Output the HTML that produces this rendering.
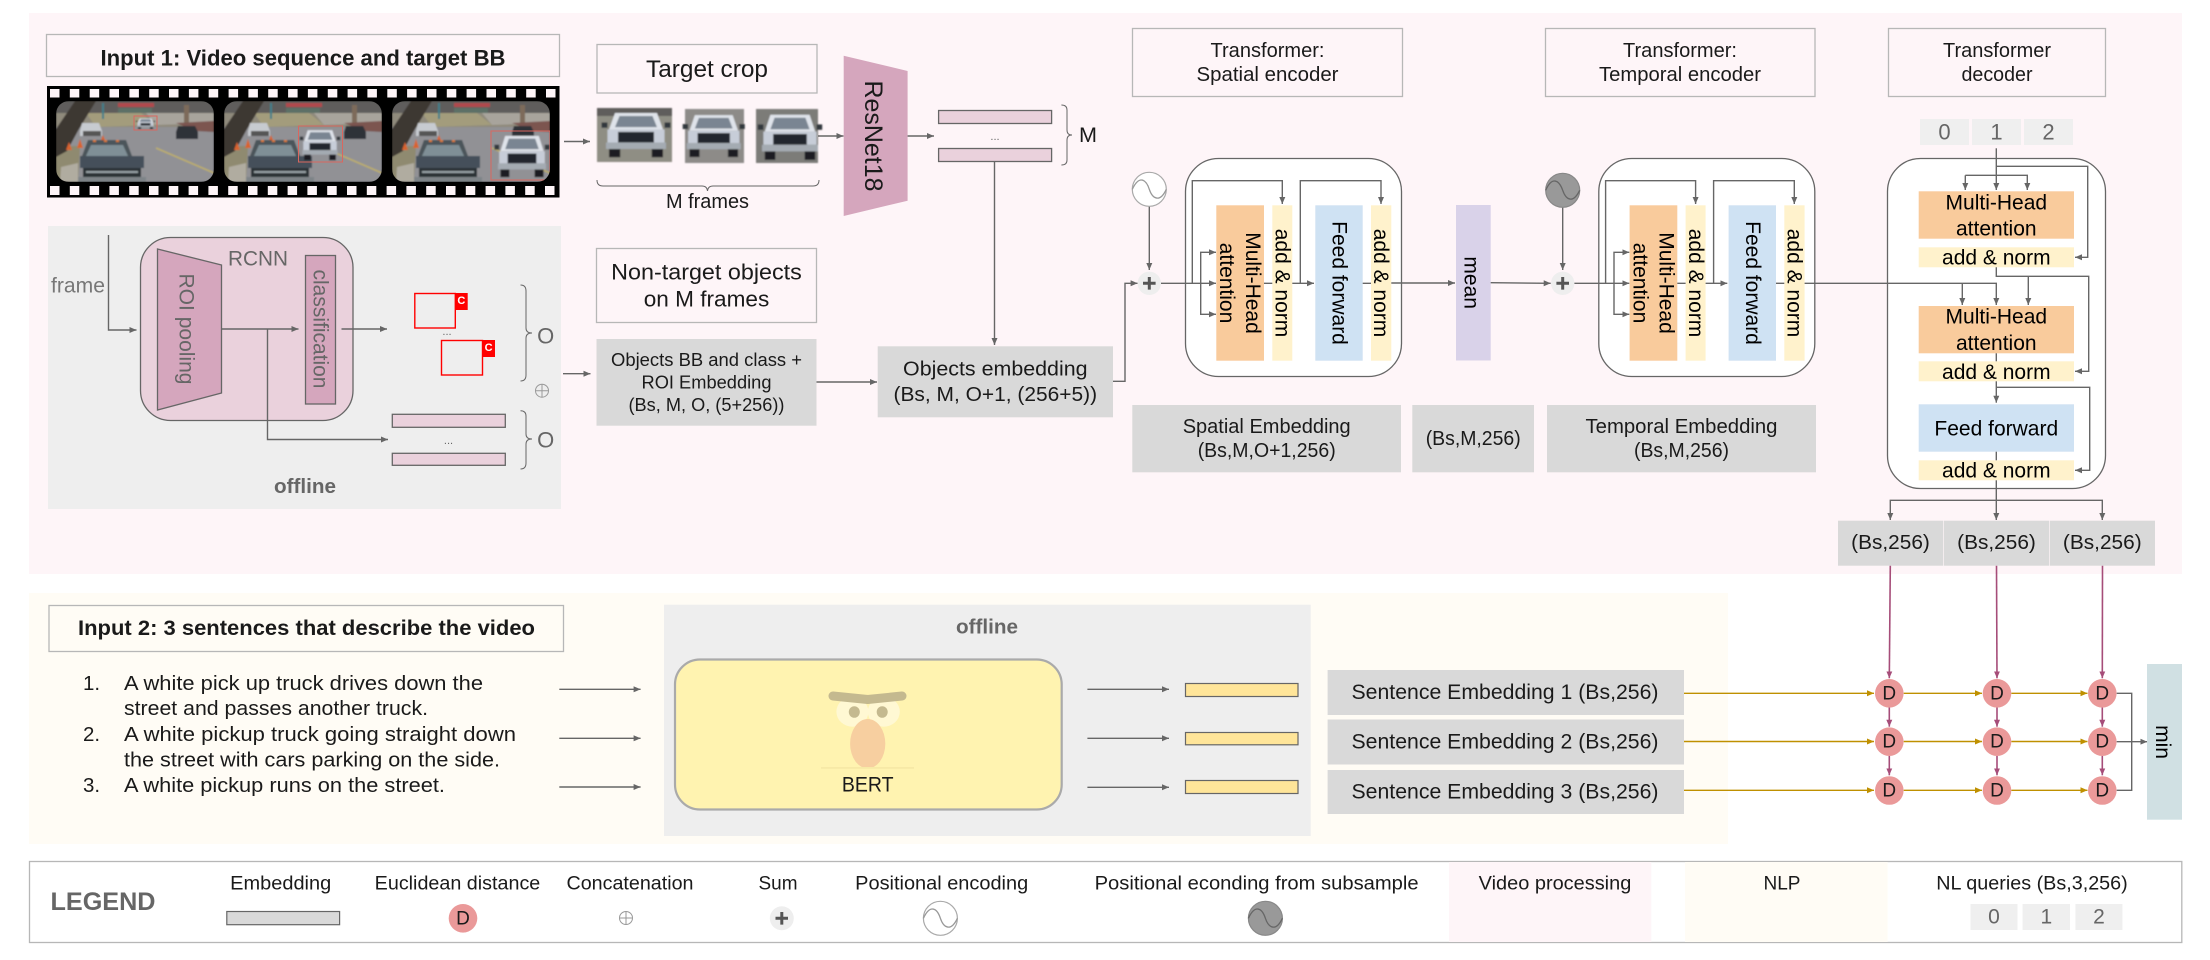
<!DOCTYPE html>
<html><head><meta charset="utf-8"><style>
html,body{margin:0;padding:0;background:#fff}
svg{display:block}
text{font-family:"Liberation Sans",sans-serif;text-anchor:middle;dominant-baseline:central;fill:#1a1a1a}
.l{fill:none;stroke:#666;stroke-width:1.4}
.m{fill:none;stroke:#a64d79;stroke-width:1.6}
.g{fill:none;stroke:#bf9000;stroke-width:1.4}
.b{fill:#fff;fill-opacity:0;stroke:#b7b7b7;stroke-width:1.3}
.e{fill:#d9d9d9}
.ar{font-size:21px;fill:#000}
</style></head><body>
<svg xmlns="http://www.w3.org/2000/svg" width="2210" height="960" viewBox="0 0 2210 960">
<defs>
<marker id="a" markerUnits="userSpaceOnUse" markerWidth="8" markerHeight="8" refX="7" refY="4" orient="auto"><path d="M0,1 L7,4 L0,7Z" fill="#666"/></marker>
<marker id="am" markerUnits="userSpaceOnUse" markerWidth="8" markerHeight="8" refX="7" refY="4" orient="auto"><path d="M0,1 L7,4 L0,7Z" fill="#a64d79"/></marker>
<marker id="ag" markerUnits="userSpaceOnUse" markerWidth="8" markerHeight="8" refX="7" refY="4" orient="auto"><path d="M0,1 L7,4 L0,7Z" fill="#bf9000"/></marker>
<filter id="bl" x="-5%" y="-5%" width="110%" height="110%"><feGaussianBlur stdDeviation="0.8"/></filter>
<clipPath id="fc"><rect x="0" y="0" width="158" height="81" rx="13"/></clipPath>
<g id="sc">
<rect width="158" height="81" fill="#919195"/>
<rect width="158" height="26" fill="#8f8a7c"/>
<rect width="158" height="12" fill="#5f5d5c"/>
<path d="M30,12 L85,12 L100,24 L40,26Z" fill="#a39c7c"/>
<path d="M90,12 L158,12 L158,22 L100,24Z" fill="#a8a49c"/>
<rect x="62" y="2" width="36" height="4" fill="#b04a4e"/>
<rect x="62" y="7" width="34" height="5" fill="#5d6f66"/>
<rect x="46" y="2" width="2" height="16" fill="#3f7f8a"/>
<rect x="128" y="4" width="5" height="26" fill="#7d6a5a"/>
<path d="M120,22 L158,20 L158,31 L140,30Z" fill="#7b5450"/>
<path d="M100,47 L158,72" stroke="#bdae6b" stroke-width="1.5"/>
<path d="M0,45 L24,45 L22,81 L0,81Z" fill="#8f8a70"/>
<path d="M5,66 L22,62 L22,81 L4,81Z" fill="#b0aca0"/>
<path d="M19,0 L40,0 L23,28 L11,50 L0,56 L0,28Z" fill="#3e3833"/>
<path d="M26,22h17l3,8v5h-22v-5z" fill="#c7cbd0"/>
<rect x="27" y="30" width="18" height="5" fill="#555"/>
<path d="M122,25h17l3,6v7h-22v-7z" fill="#2e3338"/>
<path d="M13,41l3,8h-6zM24,38l3,9h-6zM47,34l2,5h-4z" fill="#d8632f"/>
<path d="M32,39 L70,39 L76,55 L26,55Z" fill="#4b555a"/>
<path d="M35,44 L67,44 L72,55 L30,55Z" fill="#7f8f96"/>
<rect x="24" y="55" width="64" height="12" fill="#44505a"/>
<rect x="27" y="67" width="58" height="14" fill="#2c3236"/>
<rect x="30" y="70" width="52" height="2" fill="#98a2a6"/>
<rect x="22" y="76" width="68" height="5" fill="#7e8488"/>
<path d="M37,39h3v2h-3zM48,39h3v2h-3zM60,39h3v2h-3z" fill="#d8772f"/>
</g>
<g id="tk">
<path d="M22,18 L78,18 L86,46 L14,46Z" fill="#dfe3ea"/>
<path d="M28,23 L72,23 L78,42 L22,42Z" fill="#7a8592"/>
<rect x="12" y="46" width="76" height="22" fill="#c7cdd8"/>
<rect x="26" y="50" width="48" height="18" fill="#20272d"/>
<rect x="10" y="68" width="80" height="11" fill="#a4abb2"/>
<rect x="14" y="79" width="15" height="14" fill="#1c1f22"/>
<rect x="71" y="79" width="15" height="14" fill="#1c1f22"/>
<rect x="4" y="34" width="8" height="9" fill="#33383d"/>
<rect x="88" y="34" width="8" height="9" fill="#33383d"/>
</g>
</defs>

<rect x="29" y="13" width="2153" height="561" fill="#fef5f8"/>
<rect x="29" y="593" width="1699" height="251" fill="#fffcf5"/>

<!-- Input 1 -->
<rect class="b" x="46.5" y="34.5" width="513" height="42"/>
<text x="303" y="58" font-size="22.5" font-weight="bold" textLength="405" lengthAdjust="spacingAndGlyphs">Input 1: Video sequence and target BB</text>

<!-- Film strip -->
<rect x="47" y="86" width="512.5" height="111.5" fill="#000"/>
<g fill="#fef5f8">
<path d="M50,89h9.5v8.5h-9.5zM69.8,89h9.5v8.5h-9.5zM89.7,89h9.5v8.5h-9.5zM109.5,89h9.5v8.5h-9.5zM129.4,89h9.5v8.5h-9.5zM149.2,89h9.5v8.5h-9.5zM169,89h9.5v8.5h-9.5zM188.9,89h9.5v8.5h-9.5zM208.7,89h9.5v8.5h-9.5zM228.6,89h9.5v8.5h-9.5zM248.4,89h9.5v8.5h-9.5zM268.2,89h9.5v8.5h-9.5zM288.1,89h9.5v8.5h-9.5zM307.9,89h9.5v8.5h-9.5zM327.8,89h9.5v8.5h-9.5zM347.6,89h9.5v8.5h-9.5zM367.4,89h9.5v8.5h-9.5zM387.3,89h9.5v8.5h-9.5zM407.1,89h9.5v8.5h-9.5zM427,89h9.5v8.5h-9.5zM446.8,89h9.5v8.5h-9.5zM466.6,89h9.5v8.5h-9.5zM486.5,89h9.5v8.5h-9.5zM506.3,89h9.5v8.5h-9.5zM526.2,89h9.5v8.5h-9.5zM546,89h9.5v8.5h-9.5z"/>
<path d="M50,186h9.5v9h-9.5zM69.8,186h9.5v9h-9.5zM89.6,186h9.5v9h-9.5zM109.4,186h9.5v9h-9.5zM129.2,186h9.5v9h-9.5zM149,186h9.5v9h-9.5zM168.8,186h9.5v9h-9.5zM188.6,186h9.5v9h-9.5zM208.4,186h9.5v9h-9.5zM228.2,186h9.5v9h-9.5zM248,186h9.5v9h-9.5zM267.8,186h9.5v9h-9.5zM287.6,186h9.5v9h-9.5zM307.4,186h9.5v9h-9.5zM327.2,186h9.5v9h-9.5zM347,186h9.5v9h-9.5zM366.8,186h9.5v9h-9.5zM386.6,186h9.5v9h-9.5zM406.4,186h9.5v9h-9.5zM426.2,186h9.5v9h-9.5zM446,186h9.5v9h-9.5zM465.8,186h9.5v9h-9.5zM485.6,186h9.5v9h-9.5zM505.4,186h9.5v9h-9.5zM525.2,186h9.5v9h-9.5zM545,186h9.5v9h-9.5z"/>
</g>
<g transform="translate(56,101)" clip-path="url(#fc)"><g filter="url(#bl)"><use href="#sc"/>
<use href="#tk" transform="translate(79,15) scale(0.21,0.14)"/></g><rect x="78" y="15" width="23" height="14" fill="none" stroke="#d9675f"/></g>
<g transform="translate(224,101)" clip-path="url(#fc)"><g filter="url(#bl)"><use href="#sc"/>
<use href="#tk" transform="translate(74,22) scale(0.44,0.4)"/></g><rect x="74.5" y="25" width="44" height="36" fill="none" stroke="#d9675f"/></g>
<g transform="translate(392,101)" clip-path="url(#fc)"><g filter="url(#bl)"><use href="#sc"/>
<use href="#tk" transform="translate(100,25) scale(0.6,0.55)"/></g><rect x="99" y="30" width="59" height="49" fill="none" stroke="#d9675f"/></g>

<path class="l" d="M564,141.5H590" marker-end="url(#a)"/>

<!-- Offline RCNN -->
<rect x="48" y="226" width="513" height="283" fill="#eee"/>
<rect x="140.5" y="237.5" width="212.5" height="183" rx="30" fill="#ead1dc" stroke="#666" stroke-width="1.3"/>
<path d="M157.5,249 L221.5,265 V393 L157.5,410Z" fill="#d5a6bd" stroke="#666" stroke-width="1.3"/>
<text transform="translate(186,329) rotate(90)" font-size="21" textLength="111" lengthAdjust="spacingAndGlyphs" style="fill:#666">ROI pooling</text>
<text x="258" y="259" font-size="21" style="fill:#666" textLength="60" lengthAdjust="spacingAndGlyphs">RCNN</text>
<rect x="305.5" y="255.5" width="30" height="148.5" fill="#d5a6bd" stroke="#666" stroke-width="1.3"/>
<text transform="translate(320,329) rotate(90)" font-size="21" style="fill:#666" textLength="119" lengthAdjust="spacingAndGlyphs">classification</text>
<text x="78" y="286" font-size="21" style="fill:#777" textLength="54" lengthAdjust="spacingAndGlyphs">frame</text>
<path class="l" d="M108.5,235V330H136.5" marker-end="url(#a)"/>
<path class="l" d="M221.5,329H298.5" marker-end="url(#a)"/>
<path class="l" d="M267.5,329V439.5H388" marker-end="url(#a)"/>
<path class="l" d="M341.5,329H387" marker-end="url(#a)"/>
<rect x="414.8" y="293.5" width="40.5" height="34.5" fill="none" stroke="#f00" stroke-width="1.4"/>
<rect x="455" y="293" width="12.7" height="17" fill="#f00"/>
<text x="461.3" y="301" font-size="11" font-weight="bold" style="fill:#fff">C</text>
<text x="447" y="332" font-size="11" style="fill:#666">...</text>
<rect x="441.5" y="340.5" width="41" height="34.5" fill="none" stroke="#f00" stroke-width="1.4"/>
<rect x="482.3" y="340" width="12.7" height="17" fill="#f00"/>
<text x="488.6" y="348" font-size="11" font-weight="bold" style="fill:#fff">C</text>
<path d="M520.5,285 Q526,285 526,291 V328 Q526,333 532,333 Q526,333 526,338 V375 Q526,381 520.5,381" fill="none" stroke="#666" stroke-width="1"/>
<text x="545.7" y="336" font-size="22" style="fill:#666">O</text>
<circle cx="542" cy="390.7" r="6.5" fill="none" stroke="#999" stroke-width="1"/><path d="M535.5,390.7H548.5M542,384.2V397.2" stroke="#999" stroke-width="1"/>
<rect x="392.3" y="414.3" width="113" height="13" fill="#ead1dc" stroke="#666" stroke-width="1.3"/>
<text x="448.5" y="441" font-size="11" style="fill:#666">...</text>
<rect x="392.3" y="453.3" width="113" height="12" fill="#ead1dc" stroke="#666" stroke-width="1.3"/>
<path d="M520.5,410.7 Q526,410.7 526,416 V434 Q526,439 532,439 Q526,439 526,444 V463 Q526,469 520.5,469" fill="none" stroke="#666" stroke-width="1"/>
<text x="545.7" y="440" font-size="22" style="fill:#666">O</text>
<text x="305" y="487" font-size="20" font-weight="bold" style="fill:#666" textLength="62" lengthAdjust="spacingAndGlyphs">offline</text>
<path class="l" d="M563,373.7H590.5" marker-end="url(#a)"/>

<!-- Target crop -->
<rect class="b" x="597" y="44.5" width="220" height="48.5"/>
<text x="707" y="69.5" font-size="24" textLength="122" lengthAdjust="spacingAndGlyphs">Target crop</text>
<g filter="url(#bl)">
<rect x="597" y="108" width="75" height="54" fill="#8f8e84"/>
<rect x="597" y="108" width="75" height="8" fill="#5f5d5c"/>
<use href="#tk" transform="translate(598.5,102.4) scale(0.75,0.59)"/>
<rect x="685" y="109" width="59" height="54" fill="#8d8b88"/>
<use href="#tk" transform="translate(680,105) scale(0.675,0.56)"/>
<rect x="756" y="109" width="62" height="54" fill="#7c7b78"/>
<use href="#tk" transform="translate(755,104) scale(0.7,0.6)"/>
</g>
<path d="M597,180 Q597,186 603,186 H702 Q707,186 707.5,191 Q708,186 713,186 H813 Q819,186 819,180" fill="none" stroke="#666" stroke-width="1"/>
<text x="707.5" y="202" font-size="20" textLength="83" lengthAdjust="spacingAndGlyphs">M frames</text>
<path class="l" d="M818,136H843.5" marker-end="url(#a)"/>
<path d="M843.7,55.7 L907.6,71 V200.7 L843.7,216Z" fill="#d5a6bd"/>
<text transform="translate(872.8,136) rotate(90)" font-size="25" textLength="111" lengthAdjust="spacingAndGlyphs">ResNet18</text>
<path class="l" d="M907.6,136H934" marker-end="url(#a)"/>
<rect x="938.6" y="110.5" width="113" height="13" fill="#ead1dc" stroke="#666" stroke-width="1.3"/>
<text x="995" y="137" font-size="11" style="fill:#666">...</text>
<rect x="938.6" y="148.5" width="113" height="13" fill="#ead1dc" stroke="#666" stroke-width="1.3"/>
<path d="M1061.4,105 Q1067,105 1067,110 V130 Q1067,135 1072,135 Q1067,135 1067,140 V160 Q1067,165 1061.4,165" fill="none" stroke="#666" stroke-width="1"/>
<text x="1088" y="135.5" font-size="21" textLength="18" lengthAdjust="spacingAndGlyphs">M</text>
<path class="l" d="M994.5,162V345" marker-end="url(#a)"/>

<rect class="b" x="596.5" y="248.5" width="220" height="74"/>
<text x="706.5" y="272" font-size="22.5" textLength="190.6" lengthAdjust="spacingAndGlyphs">Non-target objects</text>
<text x="706.5" y="299" font-size="22.5" textLength="125.5" lengthAdjust="spacingAndGlyphs">on M frames</text>
<rect class="e" x="596.5" y="339" width="220" height="86.7"/>
<text x="706.5" y="359.3" font-size="18.5" textLength="191" lengthAdjust="spacingAndGlyphs">Objects BB and class +</text>
<text x="706.5" y="382" font-size="18.5" textLength="130" lengthAdjust="spacingAndGlyphs">ROI Embedding</text>
<text x="706.5" y="404.7" font-size="18.5" textLength="156" lengthAdjust="spacingAndGlyphs">(Bs, M, O, (5+256))</text>
<path class="l" d="M816.5,382H877" marker-end="url(#a)"/>
<rect class="e" x="877.7" y="346.3" width="235.3" height="71"/>
<text x="995.3" y="369" font-size="20.5" textLength="184.5" lengthAdjust="spacingAndGlyphs">Objects embedding</text>
<text x="995.3" y="394.7" font-size="20.5" textLength="203.6" lengthAdjust="spacingAndGlyphs">(Bs, M, O+1, (256+5))</text>
<path class="l" d="M1113,381.3H1125V283.3H1137.6" marker-end="url(#a)"/>

<!-- Titles -->
<rect class="b" x="1132.5" y="28.5" width="270" height="68"/>
<text x="1267.5" y="50.7" font-size="20.5" textLength="114" lengthAdjust="spacingAndGlyphs">Transformer:</text>
<text x="1267.5" y="74.7" font-size="20.5" textLength="142" lengthAdjust="spacingAndGlyphs">Spatial encoder</text>
<rect class="b" x="1545.5" y="28.5" width="269.5" height="68"/>
<text x="1680" y="50.7" font-size="20.5" textLength="114" lengthAdjust="spacingAndGlyphs">Transformer:</text>
<text x="1680" y="74.7" font-size="20.5" textLength="162" lengthAdjust="spacingAndGlyphs">Temporal encoder</text>
<rect class="b" x="1888.5" y="28.5" width="217" height="68"/>
<text x="1997" y="50.7" font-size="20.5" textLength="108" lengthAdjust="spacingAndGlyphs">Transformer</text>
<text x="1997" y="74.7" font-size="20.5" textLength="71" lengthAdjust="spacingAndGlyphs">decoder</text>

<!-- Sum / pos enc 1 -->
<path class="l" d="M1149.3,206V270" marker-end="url(#a)"/>
<circle cx="1149.3" cy="189.3" r="17" fill="#fff" stroke="#aaa" stroke-width="1.2"/>
<path d="M1132.3,189.3 C1139,175 1146,179 1149.3,189.3 C1152.5,199 1160,203 1166.3,189.3" fill="none" stroke="#999" stroke-width="1.3"/>
<circle cx="1149.3" cy="283.3" r="11.7" fill="#eee"/><path d="M1143,283.3H1155.6M1149.3,277V289.6" stroke="#555" stroke-width="3"/>

<!-- Encoder 1 -->
<rect x="1185.5" y="158.5" width="216" height="218" rx="33" fill="#fff" stroke="#666" stroke-width="1.3"/>
<rect x="1216.3" y="205.3" width="47.7" height="155.4" fill="#f9cb9c"/>
<rect x="1272.3" y="205.3" width="20" height="155.4" fill="#fff2cc"/>
<rect x="1315.3" y="205.3" width="47.4" height="155.4" fill="#cfe2f3"/>
<rect x="1371" y="205.3" width="20.3" height="155.4" fill="#fff2cc"/>
<text class="ar" transform="translate(1252.7,283) rotate(90)">Multi-Head</text>
<text class="ar" transform="translate(1226.7,283) rotate(90)">attention</text>
<text class="ar" transform="translate(1282,283) rotate(90)">add &amp; norm</text>
<text class="ar" transform="translate(1339,283) rotate(90)">Feed forward</text>
<text class="ar" transform="translate(1380.7,283) rotate(90)">add &amp; norm</text>
<path class="l" d="M1161,283.3H1216" marker-end="url(#a)"/>
<path class="l" d="M1200.7,283.3V252.3H1216" marker-end="url(#a)"/>
<path class="l" d="M1200.7,283.3V314.3H1216" marker-end="url(#a)"/>
<path class="l" d="M1192.3,283.3V180.7H1282.3V204" marker-end="url(#a)"/>
<path class="l" d="M1264,283.3H1272.3M1292.3,283.3H1314" marker-end="url(#a)"/>
<path class="l" d="M1300.3,283.3V180.7H1381V204" marker-end="url(#a)"/>
<path class="l" d="M1362.7,283.3H1371M1391.3,283H1455" marker-end="url(#a)"/>

<!-- mean -->
<rect x="1456" y="205" width="34.7" height="155.5" fill="#d9d2e9"/>
<text class="ar" transform="translate(1471,282.7) rotate(90)">mean</text>
<path class="l" d="M1490.7,282.7L1550.7,283.3" marker-end="url(#a)"/>

<!-- Sum / pos enc 2 -->
<path class="l" d="M1562.7,207V270" marker-end="url(#a)"/>
<circle cx="1562.7" cy="190.3" r="17" fill="#999" stroke="#888" stroke-width="1.2"/>
<path d="M1545.7,190.3 C1552,176 1559,180 1562.7,190.3 C1566,200 1573,204 1579.7,190.3" fill="none" stroke="#666" stroke-width="1.3"/>
<circle cx="1562.7" cy="283.3" r="11.7" fill="#eee"/><path d="M1556.4,283.3H1569M1562.7,277V289.6" stroke="#555" stroke-width="3"/>

<!-- Encoder 2 -->
<rect x="1598.8" y="158.5" width="216" height="218" rx="33" fill="#fff" stroke="#666" stroke-width="1.3"/>
<rect x="1629.6" y="205.3" width="47.7" height="155.4" fill="#f9cb9c"/>
<rect x="1685.6" y="205.3" width="20" height="155.4" fill="#fff2cc"/>
<rect x="1728.6" y="205.3" width="47.4" height="155.4" fill="#cfe2f3"/>
<rect x="1784.3" y="205.3" width="20.3" height="155.4" fill="#fff2cc"/>
<text class="ar" transform="translate(1666,283) rotate(90)">Multi-Head</text>
<text class="ar" transform="translate(1640,283) rotate(90)">attention</text>
<text class="ar" transform="translate(1695.3,283) rotate(90)">add &amp; norm</text>
<text class="ar" transform="translate(1752.3,283) rotate(90)">Feed forward</text>
<text class="ar" transform="translate(1794,283) rotate(90)">add &amp; norm</text>
<path class="l" d="M1574.4,283.3H1629.3" marker-end="url(#a)"/>
<path class="l" d="M1614,283.3V252.3H1629.3" marker-end="url(#a)"/>
<path class="l" d="M1614,283.3V314.3H1629.3" marker-end="url(#a)"/>
<path class="l" d="M1605.6,283.3V180.7H1695.6V204" marker-end="url(#a)"/>
<path class="l" d="M1677.3,283.3H1685.6M1705.6,283.3H1727.3" marker-end="url(#a)"/>
<path class="l" d="M1713.6,283.3V180.7H1794.3V204" marker-end="url(#a)"/>
<path class="l" d="M1776,283.3H1784.3"/>

<!-- Embedding labels -->
<rect class="e" x="1132.3" y="405" width="268.7" height="67.3"/>
<text x="1266.7" y="426.3" font-size="20.5" textLength="168" lengthAdjust="spacingAndGlyphs">Spatial Embedding</text>
<text x="1266.7" y="450.3" font-size="20.5" textLength="138" lengthAdjust="spacingAndGlyphs">(Bs,M,O+1,256)</text>
<rect class="e" x="1412.3" y="405" width="121.7" height="67.3"/>
<text x="1473.2" y="438.7" font-size="20.5" textLength="95" lengthAdjust="spacingAndGlyphs">(Bs,M,256)</text>
<rect class="e" x="1547" y="405" width="269" height="67.3"/>
<text x="1681.5" y="426.3" font-size="20.5" textLength="192" lengthAdjust="spacingAndGlyphs">Temporal Embedding</text>
<text x="1681.5" y="450.3" font-size="20.5" textLength="95" lengthAdjust="spacingAndGlyphs">(Bs,M,256)</text>

<!-- Decoder -->
<rect x="1920" y="119" width="49" height="26" fill="#efefef"/>
<rect x="1972" y="119" width="49" height="26" fill="#efefef"/>
<rect x="2024" y="119" width="49" height="26" fill="#efefef"/>
<text x="1944.5" y="132" font-size="22" style="fill:#666">0</text>
<text x="1996.5" y="132" font-size="22" style="fill:#666">1</text>
<text x="2048.5" y="132" font-size="22" style="fill:#666">2</text>
<rect x="1887.5" y="158.5" width="218" height="330" rx="33" fill="#fff" stroke="#666" stroke-width="1.3"/>
<rect x="1918.7" y="191.3" width="155.3" height="47.4" fill="#f9cb9c"/>
<text class="ar" x="1996.3" y="202.8">Multi-Head</text>
<text class="ar" x="1996.3" y="229.2">attention</text>
<rect x="1918.7" y="247.3" width="155.3" height="20" fill="#fff2cc"/>
<text class="ar" x="1996.3" y="258.2">add &amp; norm</text>
<rect x="1918.7" y="306" width="155.3" height="47.3" fill="#f9cb9c"/>
<text class="ar" x="1996.3" y="317.2">Multi-Head</text>
<text class="ar" x="1996.3" y="343.5">attention</text>
<rect x="1918.7" y="361.3" width="155.3" height="20" fill="#fff2cc"/>
<text class="ar" x="1996.3" y="372.5">add &amp; norm</text>
<rect x="1918.7" y="404.3" width="155.3" height="47.4" fill="#cfe2f3"/>
<text class="ar" x="1996.3" y="428.8">Feed forward</text>
<rect x="1918.7" y="460.3" width="155.3" height="20" fill="#fff2cc"/>
<text class="ar" x="1996.3" y="471.2">add &amp; norm</text>

<path class="l" d="M1996.3,148.3V190" marker-end="url(#a)"/>
<path class="l" d="M1965.3,175.3H2027.3V190" marker-end="url(#a)"/>
<path class="l" d="M1965.3,175.3V190" marker-end="url(#a)"/>
<path class="l" d="M1996.3,166.3H2087.7V257.3H2075" marker-end="url(#a)"/>
<path class="l" d="M1804.6,283.3H1996.3V305" marker-end="url(#a)"/>
<path class="l" d="M1962.3,283.3V305" marker-end="url(#a)"/>
<path class="l" d="M1996.3,267.3V276.3H2088.7V371.3H2075" marker-end="url(#a)"/>
<path class="l" d="M2028.3,276.3V305" marker-end="url(#a)"/>
<path class="l" d="M1996.3,353.3V361.3"/>
<path class="l" d="M1996.3,381.3V402.7" marker-end="url(#a)"/>
<path class="l" d="M1996.3,387.3H2089.7V470.3H2075" marker-end="url(#a)"/>
<path class="l" d="M1996.3,451.7V460.3"/>
<path class="l" d="M1996.3,480.3V520" marker-end="url(#a)"/>
<path class="l" d="M1996.3,500.3H2102.3V520" marker-end="url(#a)"/>
<path class="l" d="M1996.3,500.3H1890.3V520" marker-end="url(#a)"/>

<rect class="e" x="1838" y="520.7" width="105.3" height="45"/>
<rect class="e" x="1944" y="520.7" width="105" height="45"/>
<rect class="e" x="2049.7" y="520.7" width="105.3" height="45"/>
<text x="1890.5" y="542.7" font-size="20.5" textLength="78.7" lengthAdjust="spacingAndGlyphs">(Bs,256)</text>
<text x="1996.5" y="542.7" font-size="20.5" textLength="78.7" lengthAdjust="spacingAndGlyphs">(Bs,256)</text>
<text x="2102.3" y="542.7" font-size="20.5" textLength="78.7" lengthAdjust="spacingAndGlyphs">(Bs,256)</text>

<!-- Input 2 -->
<rect class="b" x="49" y="605.5" width="514.5" height="46"/>
<text x="306.5" y="628.3" font-size="21" font-weight="bold" textLength="457" lengthAdjust="spacingAndGlyphs">Input 2: 3 sentences that describe the video</text>
<text x="83" y="683.3" font-size="20.5" style="text-anchor:start">1.</text>
<text x="124" y="683.3" font-size="20.5" style="text-anchor:start" textLength="359" lengthAdjust="spacingAndGlyphs">A white pick up truck drives down the</text>
<text x="124" y="708.7" font-size="20.5" style="text-anchor:start" textLength="304" lengthAdjust="spacingAndGlyphs">street and passes another truck.</text>
<text x="83" y="734.7" font-size="20.5" style="text-anchor:start">2.</text>
<text x="124" y="734.7" font-size="20.5" style="text-anchor:start" textLength="392" lengthAdjust="spacingAndGlyphs">A white pickup truck going straight down</text>
<text x="124" y="760" font-size="20.5" style="text-anchor:start" textLength="376" lengthAdjust="spacingAndGlyphs">the street with cars parking on the side.</text>
<text x="83" y="785.3" font-size="20.5" style="text-anchor:start">3.</text>
<text x="124" y="785.3" font-size="20.5" style="text-anchor:start" textLength="321" lengthAdjust="spacingAndGlyphs">A white pickup runs on the street.</text>
<path class="l" d="M559.3,689.3H640.6" marker-end="url(#a)"/>
<path class="l" d="M559.3,738.3H640.6" marker-end="url(#a)"/>
<path class="l" d="M559.3,787H640.6" marker-end="url(#a)"/>

<rect x="664" y="604.7" width="646.7" height="231.3" fill="#eee"/>
<text x="987" y="627.7" font-size="20" font-weight="bold" style="fill:#666" textLength="62" lengthAdjust="spacingAndGlyphs">offline</text>
<rect x="675" y="659.5" width="386.7" height="150" rx="25" fill="#fff3b0" stroke="#aaa" stroke-width="2.2"/>
<ellipse cx="852.4" cy="711.7" rx="16" ry="15" fill="#fff8d3"/>
<ellipse cx="883.8" cy="711.7" rx="16" ry="15" fill="#fff8d3"/>
<ellipse cx="854.3" cy="712" rx="5.5" ry="5.8" fill="#c4b98f"/>
<ellipse cx="882.2" cy="712" rx="5.5" ry="5.8" fill="#c4b98f"/>
<path d="M833,696 L867.7,699.5 L902,696" fill="none" stroke="#c4b98f" stroke-width="9" stroke-linecap="round" stroke-linejoin="round"/>
<ellipse cx="867.7" cy="743.7" rx="17.6" ry="24.7" fill="#f7cfa0"/>
<rect x="821" y="767" width="93" height="1.8" fill="#f7e9a6"/>
<text x="867.7" y="785" font-size="21" textLength="51.7" lengthAdjust="spacingAndGlyphs">BERT</text>
<path class="l" d="M1087.4,689.3H1169" marker-end="url(#a)"/>
<path class="l" d="M1087.4,738.3H1169" marker-end="url(#a)"/>
<path class="l" d="M1087.4,787.3H1169" marker-end="url(#a)"/>
<rect x="1185.5" y="683.5" width="112.5" height="13" fill="#ffe599" stroke="#666" stroke-width="1.2"/>
<rect x="1185.5" y="732.5" width="112.5" height="12.3" fill="#ffe599" stroke="#666" stroke-width="1.2"/>
<rect x="1185.5" y="780.5" width="112.5" height="13" fill="#ffe599" stroke="#666" stroke-width="1.2"/>

<rect class="e" x="1327.6" y="670" width="356.4" height="45"/>
<rect class="e" x="1327.6" y="719.5" width="356.4" height="45"/>
<rect class="e" x="1327.6" y="770" width="356.4" height="44"/>
<text x="1505" y="692.5" font-size="21" textLength="307" lengthAdjust="spacingAndGlyphs">Sentence Embedding 1 (Bs,256)</text>
<text x="1505" y="742" font-size="21" textLength="307" lengthAdjust="spacingAndGlyphs">Sentence Embedding 2 (Bs,256)</text>
<text x="1505" y="792" font-size="21" textLength="307" lengthAdjust="spacingAndGlyphs">Sentence Embedding 3 (Bs,256)</text>

<!-- Magenta / gold grid -->
<path class="m" d="M1890.3,565.7L1889.3,678.3" marker-end="url(#am)"/>
<path class="m" d="M1996.5,565.7L1997,678.3" marker-end="url(#am)"/>
<path class="m" d="M2102.5,565.7L2102.3,678.3" marker-end="url(#am)"/>
<path class="m" d="M1889.3,707V726.7" marker-end="url(#am)"/>
<path class="m" d="M1997,707V726.7" marker-end="url(#am)"/>
<path class="m" d="M2102.3,707V726.7" marker-end="url(#am)"/>
<path class="m" d="M1889.3,756V775.3" marker-end="url(#am)"/>
<path class="m" d="M1997,756V775.3" marker-end="url(#am)"/>
<path class="m" d="M2102.3,756V775.3" marker-end="url(#am)"/>
<path class="g" d="M1684,693.3H1874" marker-end="url(#ag)"/>
<path class="g" d="M1684,741.5H1874" marker-end="url(#ag)"/>
<path class="g" d="M1684,790.3H1874" marker-end="url(#ag)"/>
<path class="g" d="M1903.7,693.3H1982" marker-end="url(#ag)"/>
<path class="g" d="M1903.7,741.5H1982" marker-end="url(#ag)"/>
<path class="g" d="M1903.7,790.3H1982" marker-end="url(#ag)"/>
<path class="g" d="M2011.3,693.3H2087.5" marker-end="url(#ag)"/>
<path class="g" d="M2011.3,741.5H2087.5" marker-end="url(#ag)"/>
<path class="g" d="M2011.3,790.3H2087.5" marker-end="url(#ag)"/>
<g fill="#ea9999">
<circle cx="1889.3" cy="693.3" r="14.3"/><circle cx="1997" cy="693.3" r="14.3"/><circle cx="2102.3" cy="693.3" r="14.3"/>
<circle cx="1889.3" cy="741.7" r="14.3"/><circle cx="1997" cy="741.7" r="14.3"/><circle cx="2102.3" cy="741.7" r="14.3"/>
<circle cx="1889.3" cy="790.5" r="14.3"/><circle cx="1997" cy="790.5" r="14.3"/><circle cx="2102.3" cy="790.5" r="14.3"/>
</g>
<g font-size="19">
<text x="1889.3" y="693.8">D</text><text x="1997" y="693.8">D</text><text x="2102.3" y="693.8">D</text>
<text x="1889.3" y="742.2">D</text><text x="1997" y="742.2">D</text><text x="2102.3" y="742.2">D</text>
<text x="1889.3" y="791">D</text><text x="1997" y="791">D</text><text x="2102.3" y="791">D</text>
</g>
<path class="l" d="M2116.7,693.3H2131.7V790.3H2116.7"/>
<path class="l" d="M2116.7,741.7H2147.3" marker-end="url(#a)"/>
<rect x="2147" y="664" width="35" height="155.7" fill="#d0e0e3"/>
<text class="ar" transform="translate(2162.3,742) rotate(90)">min</text>

<!-- Legend -->
<rect x="29.5" y="861.5" width="2152.3" height="81" fill="#fff" stroke="#b7b7b7" stroke-width="1.3"/>
<rect x="1449" y="862" width="202.3" height="80" fill="#fef5f8"/>
<rect x="1685" y="862" width="202.6" height="80" fill="#fffcf5"/>
<text x="103" y="902" font-size="25" font-weight="bold" style="fill:#666" textLength="105" lengthAdjust="spacingAndGlyphs">LEGEND</text>
<text x="280.7" y="884" font-size="19" textLength="101" lengthAdjust="spacingAndGlyphs">Embedding</text>
<text x="457.5" y="884" font-size="19" textLength="165.6" lengthAdjust="spacingAndGlyphs">Euclidean distance</text>
<text x="630" y="884" font-size="19" textLength="127" lengthAdjust="spacingAndGlyphs">Concatenation</text>
<text x="778" y="884" font-size="19" textLength="39" lengthAdjust="spacingAndGlyphs">Sum</text>
<text x="941.7" y="884" font-size="19" textLength="173" lengthAdjust="spacingAndGlyphs">Positional encoding</text>
<text x="1256.6" y="884" font-size="19" textLength="324" lengthAdjust="spacingAndGlyphs">Positional econding from subsample</text>
<text x="1555" y="884" font-size="19" textLength="152.6" lengthAdjust="spacingAndGlyphs">Video processing</text>
<text x="1782" y="884" font-size="19" textLength="37" lengthAdjust="spacingAndGlyphs">NLP</text>
<text x="2032" y="884" font-size="19" textLength="191.5" lengthAdjust="spacingAndGlyphs">NL queries (Bs,3,256)</text>
<rect x="226.8" y="911.5" width="112.8" height="13.2" fill="#d9d9d9" stroke="#666" stroke-width="1.2"/>
<circle cx="463" cy="918.3" r="14.3" fill="#ea9999"/><text x="463" y="918.8" font-size="19">D</text>
<circle cx="626" cy="918" r="6.5" fill="none" stroke="#999" stroke-width="1"/><path d="M619.5,918H632.5M626,911.5V924.5" stroke="#999" stroke-width="1"/>
<circle cx="781.8" cy="918.3" r="12" fill="#eee"/><path d="M775.5,918.3H788M781.8,912V924.6" stroke="#555" stroke-width="3"/>
<circle cx="940.4" cy="918.3" r="17" fill="#fff" stroke="#aaa" stroke-width="1.2"/>
<path d="M923.4,918.3 C930,904 937,908 940.4,918.3 C943.6,928 951,932 957.4,918.3" fill="none" stroke="#999" stroke-width="1.3"/>
<circle cx="1265.4" cy="918.3" r="17" fill="#999" stroke="#888" stroke-width="1.2"/>
<path d="M1248.4,918.3 C1255,904 1262,908 1265.4,918.3 C1268.6,928 1276,932 1282.4,918.3" fill="none" stroke="#666" stroke-width="1.3"/>
<rect x="1970.5" y="904" width="47" height="26" fill="#efefef"/>
<rect x="2022.6" y="904" width="47.4" height="26" fill="#efefef"/>
<rect x="2075.4" y="904" width="47" height="26" fill="#efefef"/>
<text x="1994" y="917" font-size="21" style="fill:#666">0</text>
<text x="2046.3" y="917" font-size="21" style="fill:#666">1</text>
<text x="2099" y="917" font-size="21" style="fill:#666">2</text>
</svg>
</body></html>
